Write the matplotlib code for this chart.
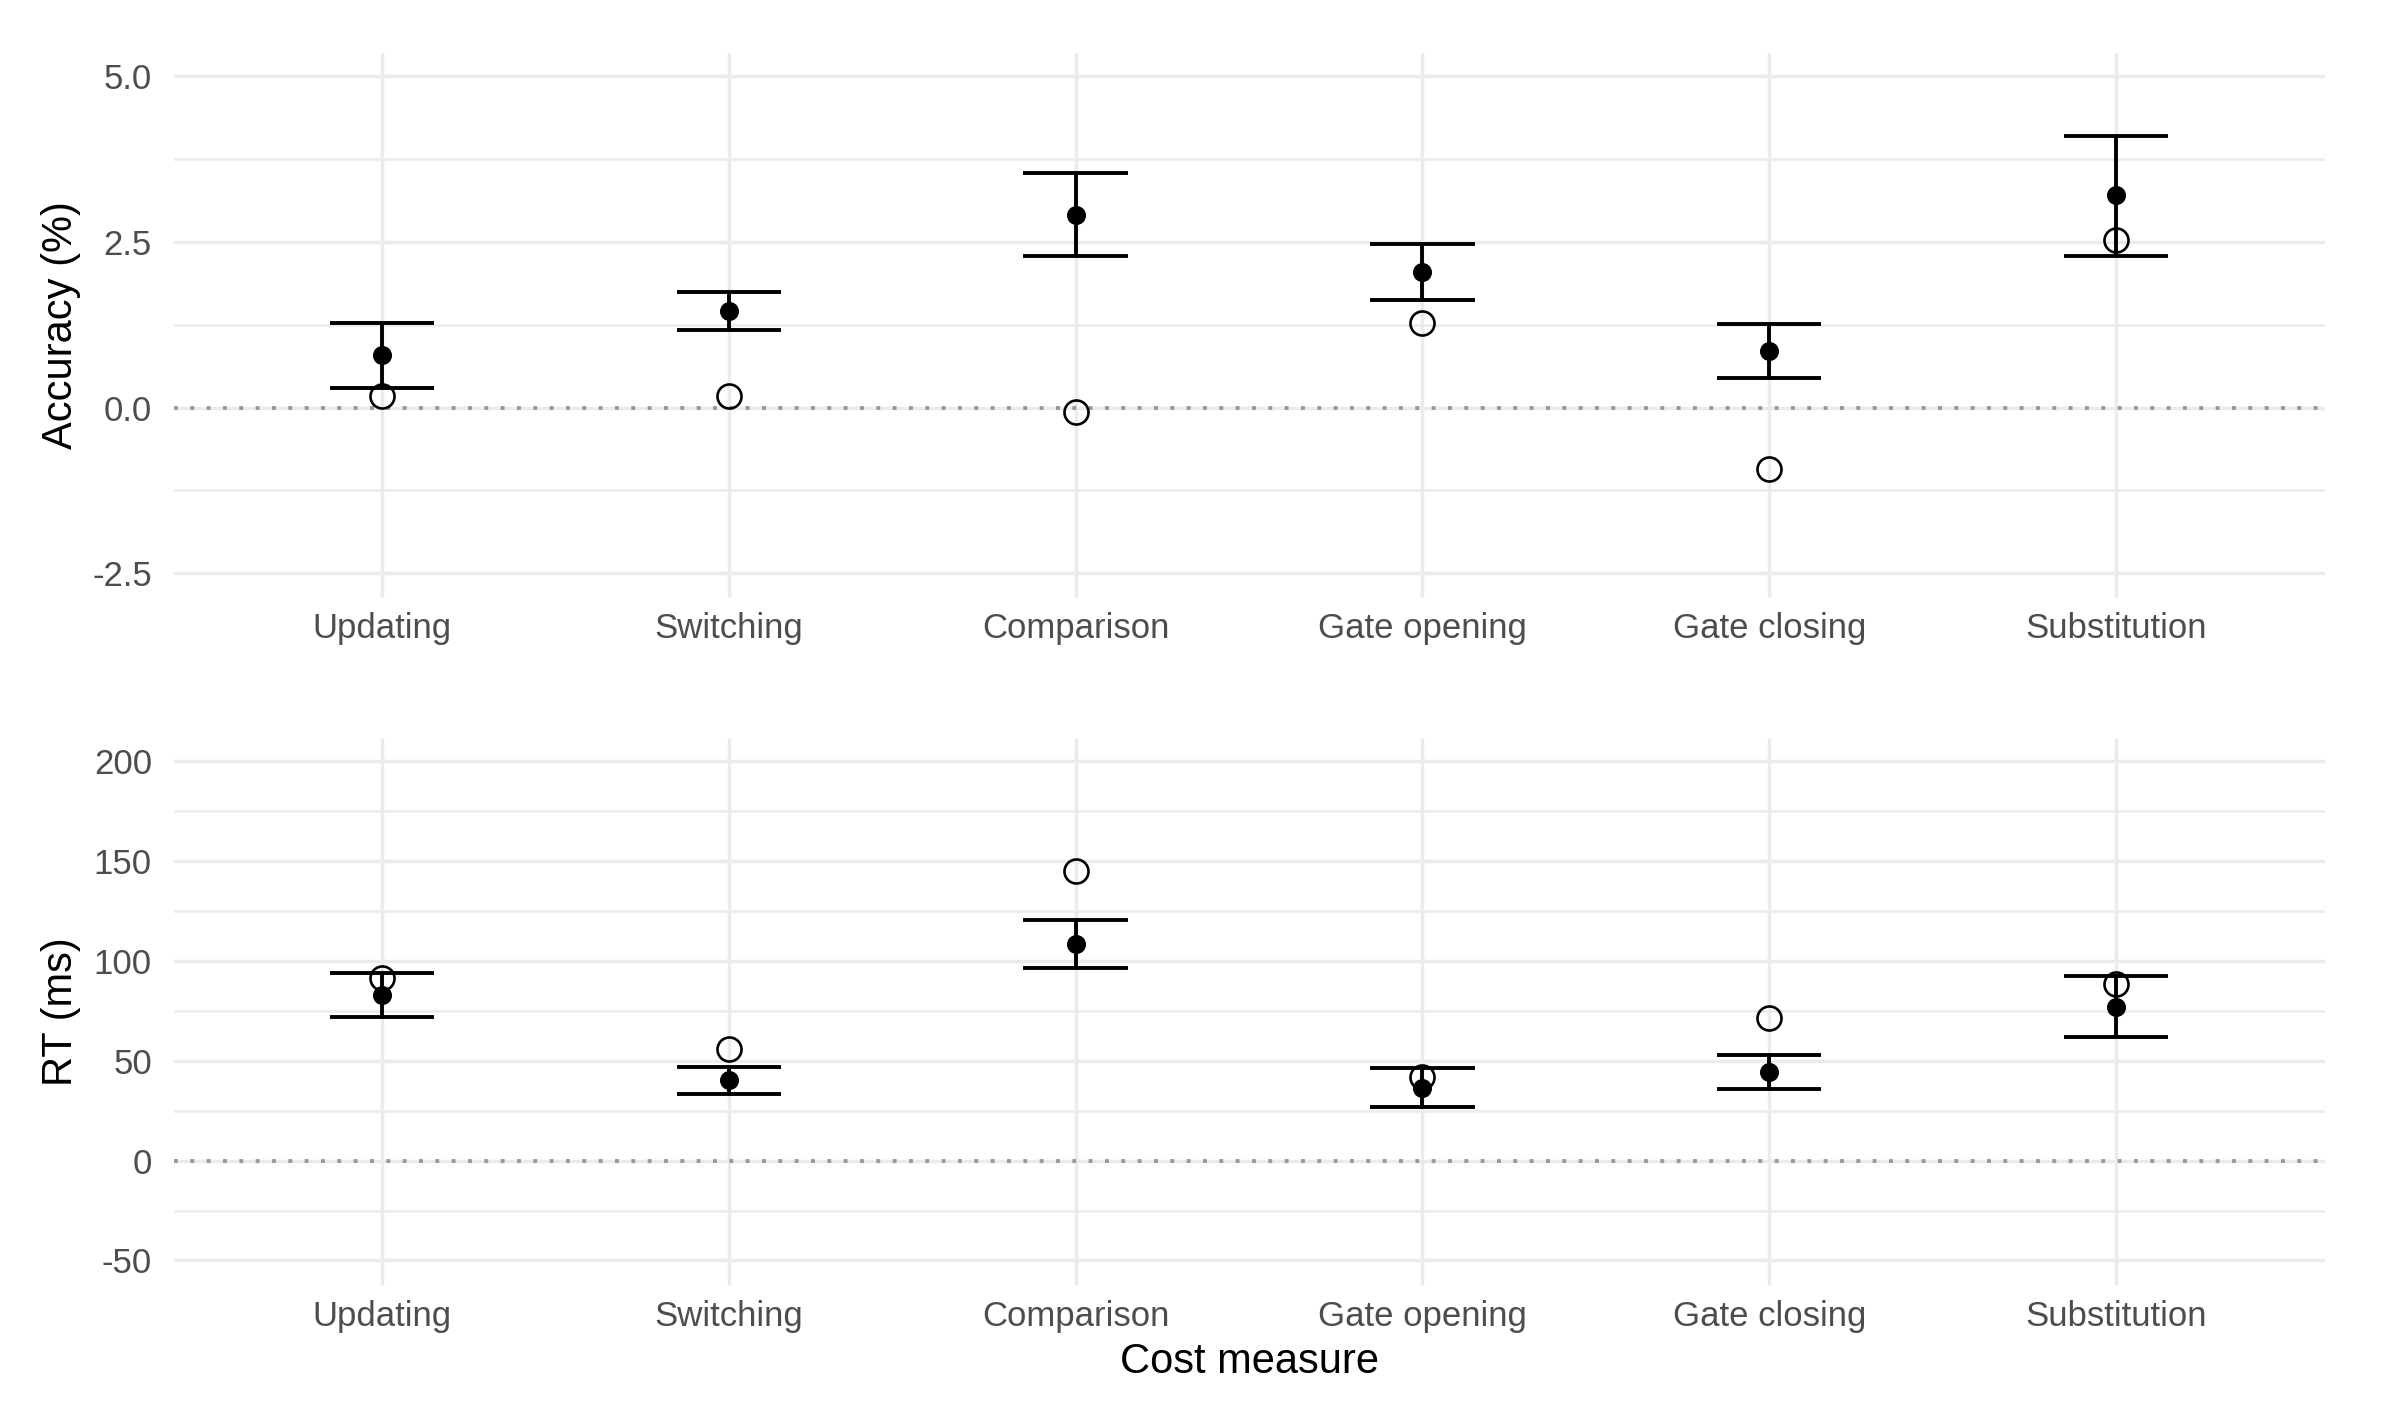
import numpy as np
import matplotlib
matplotlib.use("Agg")
import matplotlib.pyplot as plt

plt.rcParams['font.family'] = ['Liberation Sans', 'DejaVu Sans']
plt.rcParams['axes.unicode_minus'] = False

# ---------------- data ----------------
categories = ["Updating", "Switching", "Comparison", "Gate opening", "Gate closing", "Substitution"]

acc_mean = [0.79, 1.45, 2.91, 2.04, 0.86, 3.20]
acc_lo   = [0.29, 1.17, 2.29, 1.62, 0.44, 2.28]
acc_hi   = [1.28, 1.74, 3.54, 2.47, 1.26, 4.10]
acc_open = [0.18, 0.18, -0.07, 1.28, -0.93, 2.53]

rt_mean = [83.0, 40.2, 108.6, 36.4, 44.3, 76.8]
rt_lo   = [71.8, 33.4, 96.6, 26.6, 35.7, 61.8]
rt_hi   = [94.1, 47.0, 120.5, 46.4, 53.0, 92.3]
rt_open = [91.6, 56.1, 144.8, 42.0, 71.6, 88.2]

acc_ticks = [-2.5, 0.0, 2.5, 5.0]
acc_tick_labels = ["-2.5", "0.0", "2.5", "5.0"]
acc_minor = [-1.25, 1.25, 3.75]
acc_lim = (-2.868, 5.356)

rt_ticks = [-50, 0, 50, 100, 150, 200]
rt_tick_labels = ["-50", "0", "50", "100", "150", "200"]
rt_minor = [-25, 25, 75, 125, 175]
rt_lim = (-62.3, 211.4)

# ---------------- figure ----------------
W, H = 2396, 1411
DPI = 100
fig = plt.figure(figsize=(W / DPI, H / DPI), dpi=DPI)
fig.patch.set_facecolor("white")

left = 173.5 / W
width = 2151 / W
ax1 = fig.add_axes([left, 1 - 597.6 / H, width, 545 / H])
ax2 = fig.add_axes([left, 1 - 1285 / H, width, 546.5 / H])

x = np.arange(len(categories))
cap_half = 0.15
grid_col = "#EBEBEB"


def draw_panel(ax, mean, lo, hi, opn, ticks, tick_labels, minor, lim, ylabel):
    ax.set_facecolor("white")
    for s in ax.spines.values():
        s.set_visible(False)
    ax.set_xlim(-0.6, len(categories) - 0.4)
    ax.set_ylim(*lim)
    ax.set_xticks(x)
    ax.set_xticklabels(categories)
    ax.set_yticks(ticks)
    ax.set_yticklabels(tick_labels)
    ax.set_yticks(minor, minor=True)
    ax.tick_params(axis="both", which="both", length=0, labelsize=25, labelcolor="#4D4D4D")
    ax.tick_params(axis="x", pad=10.5)
    ax.tick_params(axis="y", pad=15.5)
    ax.grid(True, which="major", axis="both", color=grid_col, linewidth=2.5, zorder=0)
    ax.grid(True, which="minor", axis="y", color=grid_col, linewidth=1.8, zorder=0)
    ax.set_axisbelow(True)

    ax.axhline(0, color="#999999", linewidth=2.8, linestyle=(0, (1, 3.2)), zorder=1)

    xs = x
    ax.vlines(xs, lo, hi, color="black", linewidth=2.8, zorder=2)
    ax.hlines(lo, xs - cap_half, xs + cap_half, color="black", linewidth=2.8, zorder=2)
    ax.hlines(hi, xs - cap_half, xs + cap_half, color="black", linewidth=2.8, zorder=2)
    ax.plot(xs, mean, linestyle="none", marker="o", markersize=12.7,
            color="black", zorder=3)
    ax.plot(xs, opn, linestyle="none", marker="o", markersize=17.3,
            markerfacecolor="none", markeredgecolor="black", markeredgewidth=1.9, zorder=4)

    ax.set_ylabel(ylabel, fontsize=30, color="black")
    ax.yaxis.label.set_va("center")
    ax.yaxis.set_label_coords((61 - 173.5) / 2151, 0.5)


draw_panel(ax1, acc_mean, acc_lo, acc_hi, acc_open, acc_ticks, acc_tick_labels,
           acc_minor, acc_lim, "Accuracy (%)")
draw_panel(ax2, rt_mean, rt_lo, rt_hi, rt_open, rt_ticks, rt_tick_labels,
           rt_minor, rt_lim, "RT (ms)")

ax2.set_xlabel("Cost measure", fontsize=30, color="black")
ax2.xaxis.label.set_va("center")
ax2.xaxis.set_label_coords(0.5, (1285 - 1362) / 546.5)

fig.savefig("out.png", dpi=DPI, facecolor="white")
